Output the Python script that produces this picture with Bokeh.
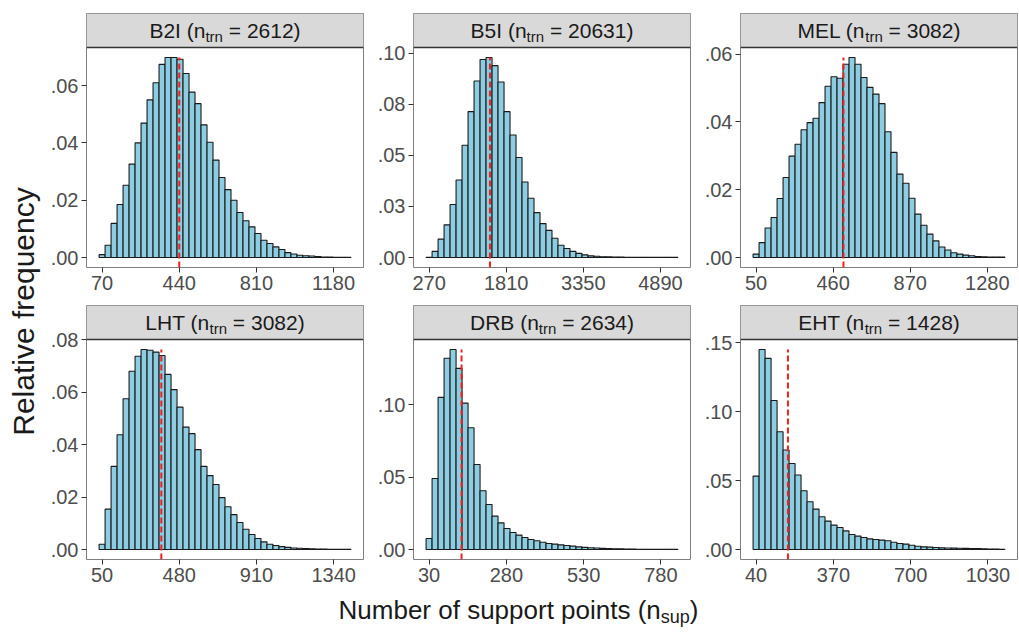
import math
from bokeh.plotting import figure
from bokeh.layouts import row, column
from bokeh.models import FixedTicker, Range1d
from bokeh.embed import file_html
from bokeh.resources import INLINE
from bokeh.core.properties import value

FONT = "Liberation Sans"

# ---------------- data ----------------
panel_names = ["B2I", "B5I", "MEL", "LHT", "DRB", "EHT"]
n_trn = [2612, 20631, 3082, 3082, 2634, 1428]
first_bin_center = [70, 270, 50, 50, 30, 40]
bin_width = [28.75, 119.7, 31.9, 33.4, 19.4, 25.6]
true_value = [440, 1485, 515, 380, 135, 176]

x_ticks = [
    [70, 440, 810, 1180],
    [270, 1810, 3350, 4890],
    [50, 460, 870, 1280],
    [50, 480, 910, 1340],
    [30, 280, 530, 780],
    [40, 370, 700, 1030],
]
y_ticks = [
    [0.0, 0.02, 0.04, 0.06],
    [0.0, 0.025, 0.05, 0.075, 0.10],
    [0.0, 0.02, 0.04, 0.06],
    [0.0, 0.02, 0.04, 0.06, 0.08],
    [0.0, 0.05, 0.10],
    [0.0, 0.05, 0.10, 0.15],
]
y_tick_labels = [
    [".00", ".02", ".04", ".06"],
    [".00", ".03", ".05", ".08", ".10"],
    [".00", ".02", ".04", ".06"],
    [".00", ".02", ".04", ".06", ".08"],
    [".00", ".05", ".10"],
    [".00", ".05", ".10", ".15"],
]

freq_b2i = [0.0010, 0.0043, 0.0119, 0.0185, 0.0252, 0.0326, 0.0400, 0.0469, 0.0550, 0.0610,
            0.0674, 0.0698, 0.0698, 0.0692, 0.0642, 0.0577, 0.0537, 0.0463, 0.0402, 0.0340,
            0.0279, 0.0237, 0.0200, 0.0157, 0.0128, 0.0107, 0.0084, 0.0060, 0.0049, 0.0037,
            0.0028, 0.0017, 0.0012, 0.0008, 0.0006, 0.0005, 0.0003, 0.0002, 0.0002, 0.0001,
            0.0001, 0.0001]
freq_b5i = [0.0001, 0.0030, 0.0090, 0.0160, 0.0260, 0.0380, 0.0550, 0.0715, 0.0865, 0.0970,
            0.0980, 0.0940, 0.0860, 0.0715, 0.0600, 0.0490, 0.0370, 0.0290, 0.0220, 0.0166,
            0.0133, 0.0094, 0.0060, 0.0044, 0.0030, 0.0020, 0.0013, 0.0008, 0.0006, 0.0004,
            0.0003, 0.0002, 0.0002, 0.0001, 0.0001, 0.0001, 0.0001, 0.00005, 0.00005, 0.00005,
            0.00005, 0.00005]
freq_mel = [0.0010, 0.0044, 0.0087, 0.0118, 0.0174, 0.0236, 0.0299, 0.0334, 0.0377, 0.0398,
            0.0411, 0.0457, 0.0505, 0.0533, 0.0529, 0.0570, 0.0590, 0.0570, 0.0531, 0.0502,
            0.0482, 0.0454, 0.0371, 0.0310, 0.0246, 0.0219, 0.0175, 0.0128, 0.0095, 0.0069,
            0.0049, 0.0031, 0.0022, 0.0014, 0.0010, 0.0007, 0.0005, 0.0003, 0.0002, 0.0001,
            0.0001, 0.0001]
freq_lht = [0.0020, 0.0154, 0.0317, 0.0438, 0.0575, 0.0680, 0.0737, 0.0763, 0.0760, 0.0753,
            0.0740, 0.0668, 0.0610, 0.0543, 0.0467, 0.0442, 0.0381, 0.0317, 0.0282, 0.0248,
            0.0198, 0.0163, 0.0133, 0.0103, 0.0077, 0.0057, 0.0042, 0.0029, 0.0020, 0.0015,
            0.0011, 0.0008, 0.0006, 0.0005, 0.0004, 0.0003, 0.0002, 0.0002, 0.0001, 0.0001,
            0.0001, 0.0001]
freq_drb = [0.0076, 0.0490, 0.1050, 0.1320, 0.1380, 0.1250, 0.1010, 0.0840, 0.0586, 0.0405,
            0.0310, 0.0230, 0.0184, 0.0145, 0.0117, 0.0099, 0.0083, 0.0069, 0.0060, 0.0050,
            0.0041, 0.0037, 0.0032, 0.0028, 0.0023, 0.0018, 0.0015, 0.0012, 0.0010, 0.0008,
            0.0006, 0.0005, 0.0004, 0.0003, 0.0003, 0.0002, 0.0002, 0.0001, 0.0001, 0.0001,
            0.0001, 0.0001]
freq_eht = [0.0532, 0.1450, 0.1386, 0.1080, 0.0854, 0.0721, 0.0624, 0.0540, 0.0426, 0.0346,
            0.0293, 0.0237, 0.0206, 0.0177, 0.0160, 0.0135, 0.0109, 0.0097, 0.0087, 0.0077,
            0.0073, 0.0068, 0.0063, 0.0053, 0.0044, 0.0039, 0.0031, 0.0024, 0.0019, 0.0017,
            0.0015, 0.0012, 0.0011, 0.0010, 0.0009, 0.0008, 0.0007, 0.0006, 0.0005, 0.0004,
            0.0003, 0.0002]
frequencies = [freq_b2i, freq_b5i, freq_mel, freq_lht, freq_drb, freq_eht]

y_title = "Relative frequency"
x_title_main = "Number of support points (n"
x_title_sub = "sup"
x_title_end = ")"

# ---------------- styling / layout ----------------
BAR_FILL = "#8DCDE2"
BAR_LINE = "#1A1A1A"
RED = "#F0201E"
STRIP_FILL = "#D9D9D9"
BORDER = "#7F7F7F"
TICK_COLOR = "#4D4D4D"

FRAME_W = 277
PLOT_H = 220
STRIP_H = 34
BOT_B = 33
RIGHT_B = 2
YT_W = 44
ROW_TOP = [13, 5]
LEFT_B = [42, 48, 48]

TICK_SIZE = 20
STRIP_SIZE, STRIP_SUB = 21, 15
XT_SIZE, XT_SUB = 26, 18
YT_SIZE = 30

ARIAL = {' ': 278, '(': 333, ')': 333, '=': 584, '.': 278,
         '0': 556, '1': 556, '2': 556, '3': 556, '4': 556, '5': 556, '6': 556, '7': 556,
         '8': 556, '9': 556, 'B': 667, 'I': 278, 'M': 833, 'E': 667, 'L': 556, 'H': 722,
         'T': 611, 'D': 722, 'R': 722, 'N': 722, 'n': 556, 't': 278, 'r': 333, 's': 500,
         'u': 556, 'p': 556, 'o': 556, 'f': 278, 'm': 833, 'b': 556, 'e': 556, 'i': 222}


def text_width(s, size):
    return sum(ARIAL.get(c, 556) for c in s) * size / 1000.0


def draw_composite(p, parts, cx, cy, ux, uy):
    """parts: (text, size, dy_px, gap_px_before). Texts are centred as a whole at cx."""
    total = sum(text_width(t, s) + g for t, s, _, g in parts)
    x_cur = cx - total / 2.0 * ux
    for t, s, dy, g in parts:
        x_cur += g * ux
        p.text(x=[x_cur], y=[cy + dy * uy], text=[t], text_font=value(FONT),
               text_font_size=f"{s}px", text_color="#1A1A1A",
               text_align="left", text_baseline="middle")
        x_cur += text_width(t, s) * ux


def make_panel(i):
    r, c = divmod(i, 3)
    left_border = LEFT_B[c]
    top_border = ROW_TOP[r]
    heights = frequencies[i]
    n = len(heights)
    w = bin_width[i]
    left0 = first_bin_center[i] - w / 2.0
    lefts = [left0 + k * w for k in range(n)]
    rights = [l + w for l in lefts]
    span = n * w
    xs, xe = left0 - 0.05 * span, left0 + span + 0.05 * span
    M = max(heights)
    ys, ytop = -0.05 * M, 1.05 * M
    uy = (ytop - ys) / PLOT_H
    ye = ytop + STRIP_H * uy
    ux = (xe - xs) / FRAME_W

    p = figure(width=left_border + FRAME_W + RIGHT_B, height=top_border + STRIP_H + PLOT_H + BOT_B,
               x_range=Range1d(xs, xe), y_range=Range1d(ys, ye),
               min_border_left=left_border, min_border_right=RIGHT_B,
               min_border_top=top_border, min_border_bottom=BOT_B,
               toolbar_location=None, output_backend="svg")
    p.grid.visible = False
    p.background_fill_color = "white"
    p.border_fill_color = "white"

    # strip
    p.quad(left=[xs], right=[xe], bottom=[ytop], top=[ye], fill_color=STRIP_FILL, line_color=None)
    p.segment(x0=[xs], y0=[ytop], x1=[xe], y1=[ytop], line_color="#333333", line_width=1.3)

    # histogram bars
    p.quad(left=lefts, right=rights, bottom=[0] * n, top=heights,
           fill_color=BAR_FILL, line_color=BAR_LINE, line_width=1.1)

    # true value line
    p.segment(x0=[true_value[i]], y0=[ys], x1=[true_value[i]], y1=[M],
              line_color=RED, line_width=2, line_dash="6 3")

    # strip label with subscript
    sp = text_width(" ", STRIP_SIZE)
    parts = [(f"{panel_names[i]} (n", STRIP_SIZE, 0.0, 0.0),
             ("trn", STRIP_SUB, -6.0, 0.0),
             (f"= {n_trn[i]})", STRIP_SIZE, 0.0, sp)]
    draw_composite(p, parts, (xs + xe) / 2.0, ytop + (STRIP_H / 2.0) * uy, ux, uy)

    # axes
    p.xaxis.ticker = FixedTicker(ticks=x_ticks[i])
    p.yaxis.ticker = FixedTicker(ticks=y_ticks[i])
    p.yaxis.major_label_overrides = {v: lab for v, lab in zip(y_ticks[i], y_tick_labels[i])}
    for ax in (p.xaxis, p.yaxis):
        ax.axis_line_color = None
        ax.major_tick_line_color = "#333333"
        ax.major_tick_out = 5
        ax.major_tick_in = 0
        ax.minor_tick_line_color = None
        ax.major_label_text_font = FONT
        ax.major_label_text_font_size = f"{TICK_SIZE}px"
        ax.major_label_text_color = TICK_COLOR
        ax.major_label_standoff = 3
    p.outline_line_color = BORDER
    p.outline_line_width = 1
    return p


panels = [make_panel(i) for i in range(6)]

grid_h = panels[0].height + panels[3].height
grid_w = sum(pp.width for pp in panels[:3])

# y title
yt = figure(width=YT_W, height=grid_h, x_range=Range1d(0, YT_W), y_range=Range1d(0, grid_h),
            min_border=0, toolbar_location=None, output_backend="svg",
            x_axis_location=None, y_axis_location=None)
yt.grid.visible = False
yt.outline_line_color = None
yt.text(x=[23], y=[grid_h - 311], text=[y_title], angle=math.pi / 2, text_font=value(FONT),
        text_font_size=f"{YT_SIZE}px", text_color="#1A1A1A", text_align="center",
        text_baseline="middle")

# x title
XT_H = 40
total_w = YT_W + grid_w
xt = figure(width=total_w, height=XT_H, x_range=Range1d(0, total_w), y_range=Range1d(0, XT_H),
            min_border=0, toolbar_location=None, output_backend="svg",
            x_axis_location=None, y_axis_location=None)
xt.grid.visible = False
xt.outline_line_color = None
xparts = [(x_title_main, XT_SIZE, 0.0, 0.0), (x_title_sub, XT_SUB, -7.0, 0.0),
          (x_title_end, XT_SIZE, 0.0, 0.0)]
draw_composite(xt, xparts, 518, XT_H - 17, 1.0, 1.0)

layout = column(row(yt, column(row(*panels[:3]), row(*panels[3:]))), xt)

open("out.html", "w").write(file_html(layout, INLINE))
